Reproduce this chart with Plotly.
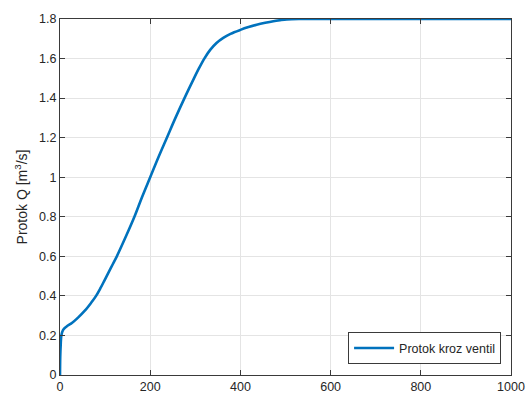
import plotly.graph_objects as go

t = [0, 0.5, 1.5, 3, 6.6, 14, 27, 40, 55, 69, 80, 90, 99, 108, 117, 126,
     146, 165, 182, 200, 218, 237, 256, 276, 297, 308, 320, 333, 347, 362,
     378, 400, 418, 436, 455, 473, 488, 503, 530, 600, 700, 800, 900, 1000]
q = [0, 0.09, 0.15, 0.20, 0.227, 0.244, 0.264, 0.29, 0.325, 0.365, 0.40,
     0.44, 0.48, 0.52, 0.56, 0.60, 0.70, 0.80, 0.90, 1.00, 1.10, 1.20, 1.30,
     1.40, 1.50, 1.55, 1.60, 1.644, 1.679, 1.705, 1.725, 1.745, 1.759, 1.771,
     1.781, 1.789, 1.794, 1.798, 1.8, 1.8, 1.8, 1.8, 1.8, 1.8]

x_ticks = [0, 200, 400, 600, 800, 1000]
x_tick_labels = ["0", "200", "400", "600", "800", "1000"]
y_ticks = [0, 0.2, 0.4, 0.6, 0.8, 1.0, 1.2, 1.4, 1.6, 1.8]
y_tick_labels = ["0", "0.2", "0.4", "0.6", "0.8", "1", "1.2", "1.4", "1.6", "1.8"]

series_name = "Protok kroz ventil"
y_title = "Protok Q [m<sup>3</sup>/s]"

font_family = "Liberation Sans, Arial, sans-serif"
axis_color = "#3a3a3a"
grid_color = "#e4e4e4"

fig = go.Figure()
fig.add_trace(go.Scatter(x=t, y=q, mode="lines", name=series_name,
                         line=dict(color="#0072BD", width=2.6,
                                   shape="spline", smoothing=1.0)))

axis_common = dict(
    showline=True, linecolor=axis_color, linewidth=1, mirror="ticks",
    ticks="inside", ticklen=5, tickcolor=axis_color, tickwidth=1,
    showgrid=True, gridcolor=grid_color, gridwidth=1, zeroline=False,
    automargin=False,
    tickfont=dict(family=font_family, size=12.5, color="#262626"),
)

fig.update_xaxes(range=[0, 1000], tickvals=x_ticks, ticktext=x_tick_labels,
                 **axis_common)
fig.update_yaxes(range=[0, 1.8], tickvals=y_ticks, ticktext=y_tick_labels,
                 title=dict(text=y_title, standoff=8,
                            font=dict(family=font_family, size=14, color="#262626")),
                 **axis_common)

fig.update_layout(
    width=527, height=396,
    margin=dict(l=60, r=16, t=19, b=21),
    paper_bgcolor="white", plot_bgcolor="white",
    showlegend=True,
    legend=dict(x=0.978, y=0.03, xanchor="right", yanchor="bottom",
                bgcolor="white", bordercolor=axis_color, borderwidth=1,
                itemwidth=40,
                font=dict(family=font_family, size=12.5, color="#262626")),
)

# remove the default 8px page margin so the figure fills the window exactly
fig.write_html("out.html",
               config={"displayModeBar": False},
               post_script="document.body.style.margin='0';"
                           "document.body.style.overflow='hidden';")
